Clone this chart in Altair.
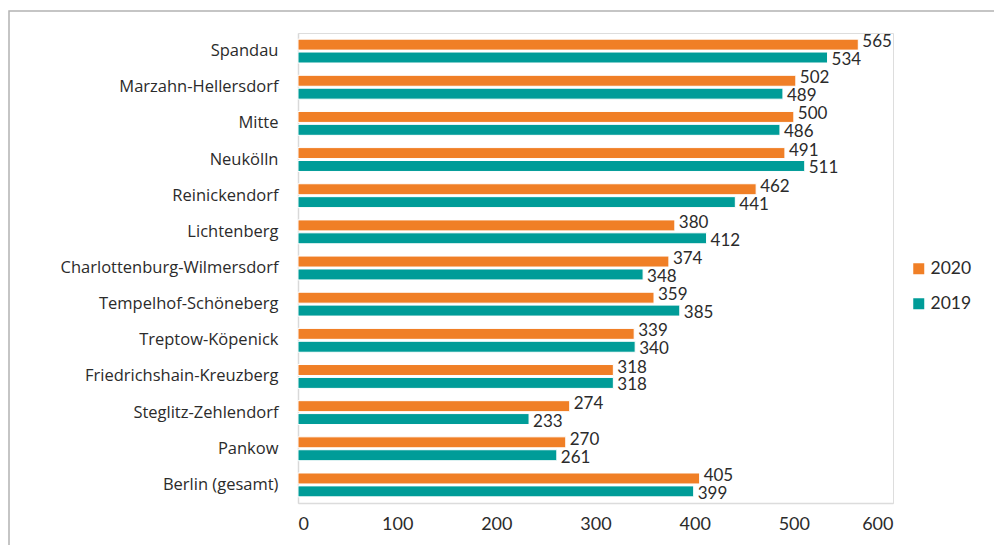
import altair as alt
import pandas as pd

districts = ["Spandau", "Marzahn-Hellersdorf", "Mitte", "Neukölln", "Reinickendorf",
             "Lichtenberg", "Charlottenburg-Wilmersdorf", "Tempelhof-Schöneberg",
             "Treptow-Köpenick", "Friedrichshain-Kreuzberg", "Steglitz-Zehlendorf",
             "Pankow", "Berlin (gesamt)"]
v2020 = [565, 502, 500, 491, 462, 380, 374, 359, 339, 318, 274, 270, 405]
v2019 = [534, 489, 486, 511, 441, 412, 348, 385, 340, 318, 233, 261, 399]
years = ["2020", "2019"]
colors = ["#F07F26", "#009C98"]
x_ticks = [0, 100, 200, 300, 400, 500, 600]

rows = []
for d, a, b in zip(districts, v2020, v2019):
    rows.append({"Bezirk": d, "Jahr": "2020", "Wert": a})
    rows.append({"Bezirk": d, "Jahr": "2019", "Wert": b})
df = pd.DataFrame(rows)

FONT = "Lato"
LFONT = "Open Sans"
TXT = "#2b2b2b"

y_enc = alt.Y("Bezirk:N", sort=districts, title=None,
              scale=alt.Scale(paddingInner=0.34, paddingOuter=0.17),
              axis=alt.Axis(labelFontSize=16.5, labelColor=TXT, labelFont=LFONT,
                            ticks=False, labelPadding=20, domainColor="#d9d9d9",
                            domainWidth=1.5, labelLimit=300))
yoff = alt.YOffset("Jahr:N", sort=years, scale=alt.Scale(paddingInner=0.15))
x_enc = alt.X("Wert:Q", title=None,
              scale=alt.Scale(domain=[0, 600], nice=False),
              axis=alt.Axis(values=x_ticks, grid=False, domain=True, ticks=False,
                            domainColor="#dcdcdc", domainWidth=1.5,
                            labelFontSize=18, labelColor=TXT, labelFont=FONT,
                            labelPadding=12))

base = alt.Chart(df)

bars = base.mark_bar(stroke="white", strokeWidth=1).encode(
    x=x_enc, y=y_enc, yOffset=yoff,
    color=alt.Color("Jahr:N", sort=years,
                    scale=alt.Scale(domain=years, range=colors),
                    legend=alt.Legend(title=None, orient="none", legendX=612, legendY=227,
                                      symbolType="square", symbolSize=121,
                                      symbolStrokeWidth=0,
                                      labelFontSize=17.5, labelColor=TXT, labelFont=FONT,
                                      rowPadding=16, labelOffset=3)),
)

def label_layer(year, dy):
    return base.transform_filter(alt.datum.Jahr == year).mark_text(
        align="left", baseline="middle", dx=4, dy=dy, fontSize=17,
        font=FONT, color=TXT).encode(
        x="Wert:Q", y=alt.Y("Bezirk:N", sort=districts), yOffset=yoff,
        text="Wert:Q",
    )

labels_2020 = label_layer("2020", -2.5)
labels_2019 = label_layer("2019", 2.5)

frame = alt.Chart(alt.Data(values=[{}])).mark_rect(
    fill=None, stroke="#b3b3b3", strokeWidth=1.5).encode(
    x=alt.value(-289), x2=alt.value(800), y=alt.value(-22), y2=alt.value(700))

chart = alt.layer(frame, bars, labels_2020, labels_2019).properties(
    width=595, height=470,
    autosize=alt.AutoSizeParams(type="none"),
    padding={"left": 290, "top": 25, "right": 101, "bottom": 42},
).configure_view(stroke=None).configure(background="white")

chart.save("out.html", embed_options={"renderer": "svg", "actions": False})
